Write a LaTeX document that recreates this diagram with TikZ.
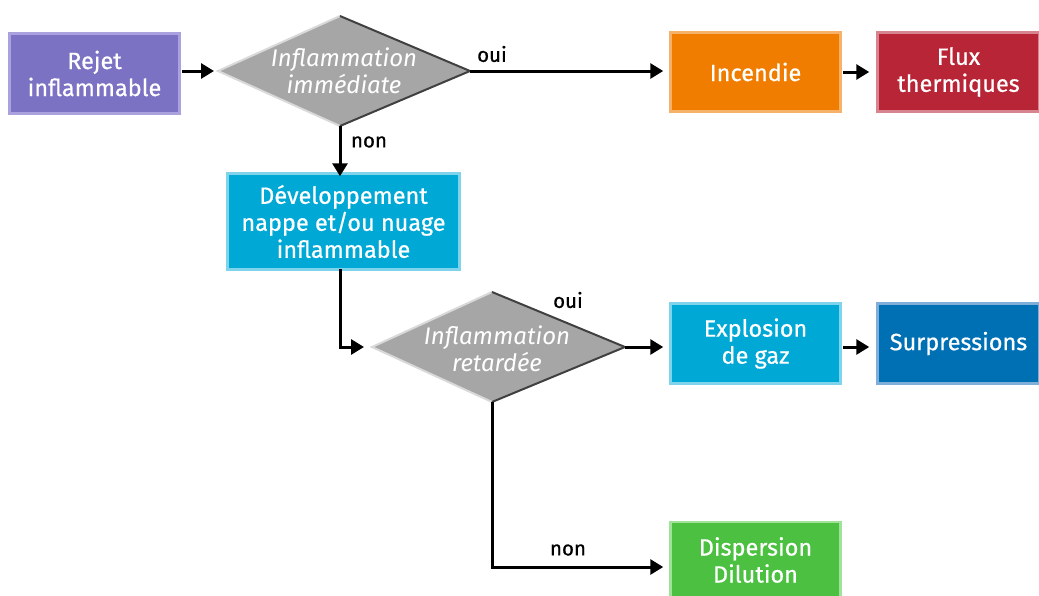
\documentclass[tikz,border=0pt]{standalone}
\usepackage{fontspec}
\setmainfont{Fira Sans}
\newfontfamily\medfont{Fira Sans}[FakeBold=0.6]
\usetikzlibrary{arrows.meta}
\definecolor{cpurple}{HTML}{7B72C4}
\definecolor{cpurpleL}{HTML}{A9A2DE}
\definecolor{corange}{HTML}{F07D00}
\definecolor{corangeL}{HTML}{F7B26A}
\definecolor{cred}{HTML}{B82537}
\definecolor{credL}{HTML}{D7848E}
\definecolor{ccyan}{HTML}{00A8D6}
\definecolor{ccyanL}{HTML}{7FD3EA}
\definecolor{cblue}{HTML}{0070B5}
\definecolor{cblueL}{HTML}{7FAFD8}
\definecolor{cgreen}{HTML}{4CC141}
\definecolor{cgreenL}{HTML}{A0E29A}
\definecolor{cgray}{HTML}{A5A6A5}
\tikzset{
  box/.style={rectangle, inner sep=0pt, line width=2.5pt, text=white,
    align=center, font=\medfont\fontsize{23.5}{27}\selectfont},
  dtext/.style={inner sep=0pt, text=white, align=center,
    font=\fontsize{24}{27}\selectfont\itshape},
  lbl/.style={inner sep=0pt, text=black, font=\medfont\fontsize{20.5}{22}\selectfont},
  arr/.style={line width=3pt, -{Triangle[length=13pt,width=15pt]}},
}
\begin{document}
\begin{tikzpicture}[x=1pt,y=-1pt]
\useasboundingbox (0,0) rectangle (1039,595);
% boxes
\node[box, fill=cpurple, draw=cpurpleL, minimum width=170pt, minimum height=80pt] (rejet) at (94.5,73.5) {Rejet\\inflammable};
\node[box, fill=corange, draw=corangeL, minimum width=170pt, minimum height=79pt] (incendie) at (755.5,72) {Incendie};
\node[box, fill=cred, draw=credL, minimum width=162pt, minimum height=79pt] (flux) at (958.5,72) {Flux\\thermiques};
\node[box, fill=ccyan, draw=ccyanL, minimum width=232pt, minimum height=96pt] (dev) at (343.5,221.5) {Développement\\nappe et/ou nuage\\inflammable};
\node[box, fill=ccyan, draw=ccyanL, minimum width=170pt, minimum height=80pt] (explo) at (755.5,343.5) {Explosion\\de gaz};
\node[box, fill=cblue, draw=cblueL, minimum width=162pt, minimum height=80pt] (surp) at (958.5,343.5) {Surpressions};
\node[box, fill=cgreen, draw=cgreenL, minimum width=170pt, minimum height=76pt] (disp) at (755.5,560) {Dispersion\\Dilution};
% diamond 1
\coordinate (d1l) at (218,71);
\coordinate (d1r) at (470,71);
\coordinate (d1t) at (340,16);
\coordinate (d1b) at (340,126);
\fill[cgray] (d1l) -- (d1t) -- (d1r) -- (d1b) -- cycle;
\draw[line width=2pt, color=white!85!black] (d1b) -- (d1l) -- (d1t);
\draw[line width=2pt, color=black!75] (d1t) -- (d1r) -- (d1b);
\node[dtext] (q1) at (344,71) {Inflammation\\immédiate};
% diamond 2
\coordinate (d2l) at (372,347);
\coordinate (d2r) at (625,347);
\coordinate (d2t) at (492,292);
\coordinate (d2b) at (492,402);
\fill[cgray] (d2l) -- (d2t) -- (d2r) -- (d2b) -- cycle;
\draw[line width=2pt, color=white!85!black] (d2b) -- (d2l) -- (d2t);
\draw[line width=2pt, color=black!75] (d2t) -- (d2r) -- (d2b);
\node[dtext] (q2) at (497,349) {Inflammation\\retardée};
% connectors
\draw[arr] ([xshift=1.5pt]rejet.east |- d1l) -- ([xshift=-4pt]d1l);
\draw[arr] (d1r) -- ([xshift=-6pt]incendie.west |- d1r);
\draw[arr] ([xshift=1.5pt]incendie.east) -- ([xshift=-7pt]flux.west);
\draw[arr] (d1b) -- ([yshift=-4pt]d1b |- dev.north);
\draw[arr] ([yshift=1.5pt]d1b |- dev.south) |- ([xshift=-8pt]d2l);
\draw[arr] (d2r) -- ([xshift=-6pt]explo.west |- d2r);
\draw[arr] ([xshift=1.5pt]explo.east |- d2r) -- ([xshift=-7pt]surp.west |- d2r);
\draw[arr] (d2b) |- ([xshift=-6pt]disp.west |- 0,567);
% labels
\node[lbl] (oui1) at (492,54) {oui};
\node[lbl] (non1) at (369,142) {non};
\node[lbl] (oui2) at (568,300) {oui};
\node[lbl] (non2) at (568,550) {non};
\end{tikzpicture}
\end{document}
